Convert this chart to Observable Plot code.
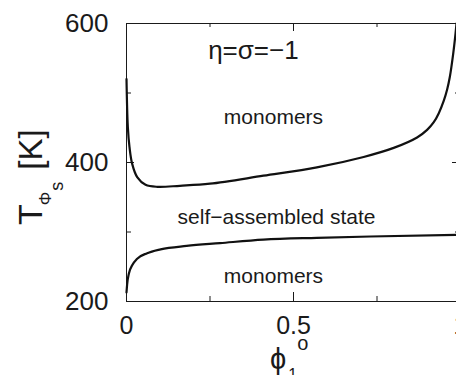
<!DOCTYPE html>
<html><head><meta charset="utf-8">
<script src="https://cdn.jsdelivr.net/npm/d3@7"></script>
<script src="https://cdn.jsdelivr.net/npm/@observablehq/plot@0.6"></script>
<style>
html,body{margin:0;padding:0;background:#fff;overflow:hidden;}
#chart{width:456px;height:375px;overflow:hidden;}
#chart svg{max-width:none !important;}
</style></head><body><div id="chart"></div>
<script>
// Upper boundary curve (monomers -> self-assembled), phi_1^o vs T [K]
const upperX = [0, 0.004, 0.009, 0.017, 0.032, 0.057, 0.092, 0.16, 0.25, 0.41, 0.57, 0.71, 0.80, 0.87, 0.90, 0.92, 0.935, 0.95, 0.96, 0.968, 0.978, 0.985, 0.988];
const upperT = [520, 451, 422, 398, 379, 368, 365, 366.5, 369.5, 381, 393, 408, 421, 436, 447, 458, 471, 489, 505, 523, 556, 585, 600];
// Lower boundary curve
const lowerX = [0, 0.002, 0.007, 0.017, 0.032, 0.062, 0.102, 0.18, 0.28, 0.41, 0.57, 0.73, 1.0];
const lowerT = [213, 225, 240, 252, 261.5, 269.5, 275, 280, 284, 289, 291.6, 293.5, 296];

const xMinorTicks = [0.25, 0.75];
const xMajorTicks = [0.5];
const xTickLabels = [0, 0.5, 1];
const yMinorTicks = [300, 500];
const yMajorTicks = [400];
const yTickLabels = [200, 400, 600];

const annText = ["η=σ=−1", "monomers", "self−assembled state", "monomers"];
const annX = [0.38, 0.44, 0.449, 0.44];
const annT = [549.6, 456, 312.2, 226];

const upper = upperX.map((x, i) => ({x, T: upperT[i]}));
const lower = lowerX.map((x, i) => ({x, T: lowerT[i]}));
const ann = annText.map((t, i) => ({t, x: annX[i], T: annT[i], big: i === 0}));

const W = 470, H = 375, mL = 126, mR = 10, mT = 23, mB = 74;
const iw = W - mL - mR, ih = H - mT - mB;
const ink = "#1a1a1a";
const font = "'Liberation Sans', Arial, Helvetica, sans-serif";

const chart = Plot.plot({
  width: W, height: H,
  marginLeft: mL, marginRight: mR, marginTop: mT, marginBottom: mB,
  style: {fontFamily: font, color: ink, background: "#fff", overflow: "hidden"},
  x: {domain: [0, 1]},
  y: {domain: [200, 600]},
  marks: [
    Plot.frame({stroke: ink, strokeWidth: 1}),
    Plot.tickX(xMinorTicks, {x: d => d, insetTop: ih - 5, stroke: ink}),
    Plot.tickX(xMinorTicks, {x: d => d, insetBottom: ih - 4, stroke: ink}),
    Plot.tickX(xMajorTicks, {x: d => d, insetTop: ih - 9, stroke: ink}),
    Plot.tickX(xMajorTicks, {x: d => d, insetBottom: ih - 8, stroke: ink}),
    Plot.tickY(yMinorTicks, {y: d => d, insetRight: iw - 5, stroke: ink}),
    Plot.tickY(yMinorTicks, {y: d => d, insetLeft: iw - 5, stroke: ink}),
    Plot.tickY(yMajorTicks, {y: d => d, insetRight: iw - 8, stroke: ink}),
    Plot.tickY(yMajorTicks, {y: d => d, insetLeft: iw - 8, stroke: ink}),
    Plot.axisX(xTickLabels, {tickSize: 0, tickPadding: 15, fontSize: 25, tickFormat: d => String(d), label: null, fill: ink}),
    Plot.axisY(yTickLabels, {tickSize: 0, tickPadding: 18, fontSize: 26, tickFormat: d => String(d), label: null, fill: ink}),
    Plot.line(upper, {x: "x", y: "T", curve: "catmull-rom", stroke: "#111", strokeWidth: 2.2}),
    Plot.line(lower, {x: "x", y: "T", curve: "monotone-x", stroke: "#111", strokeWidth: 2.2}),
    Plot.text(ann.filter(d => d.big), {x: "x", y: "T", text: "t", fontSize: 26, lineAnchor: "bottom", fill: ink}),
    Plot.text(ann.filter(d => !d.big), {x: "x", y: "T", text: "t", fontSize: 21, lineAnchor: "bottom", fill: ink})
  ]
});
chart.style.maxWidth = "none";
document.getElementById("chart").appendChild(chart);

const svg = d3.select(chart);
// y-axis label: T_{Φ_s} [K]
const yl = svg.append("text")
  .attr("transform", "translate(42,225) rotate(-90)")
  .attr("font-family", font).attr("fill", ink).attr("text-anchor", "start");
yl.append("tspan").attr("font-size", 34).text("T");
yl.append("tspan").attr("font-size", 17).attr("dx", -1).attr("dy", 9).text("Φ");
yl.append("tspan").attr("font-size", 18).attr("dx", 1).attr("dy", 12).text("s");
yl.append("tspan").attr("font-size", 33).attr("dx", 12).attr("dy", -21).text("[K]");

// x-axis label: ϕ_1^o
const xl = svg.append("text")
  .attr("x", 270).attr("y", 369)
  .attr("font-family", font).attr("fill", ink).attr("text-anchor", "start");
xl.append("tspan").attr("font-size", 29).text("ϕ");
xl.append("tspan").attr("font-size", 16).attr("dx", 2).attr("dy", 11).text("1");
xl.append("tspan").attr("font-size", 20).attr("dx", 0).attr("dy", -30).text("o");
</script></body></html>
